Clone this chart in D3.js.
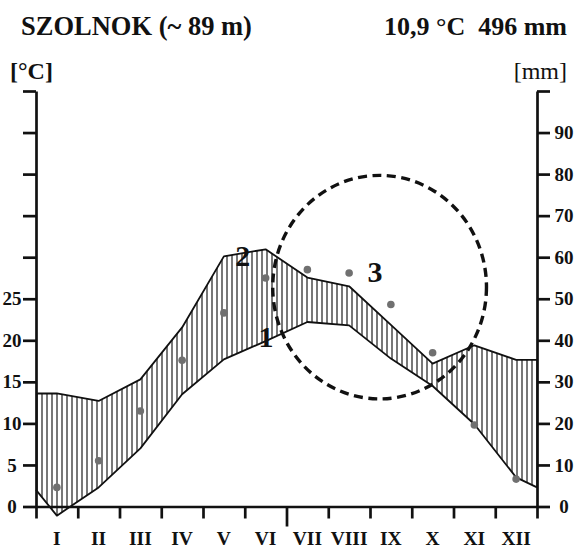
<!DOCTYPE html>
<html>
<head>
<meta charset="utf-8">
<script src="https://cdn.jsdelivr.net/npm/d3@7"></script>
<style>
  html, body { margin: 0; padding: 0; background: #ffffff; }
  svg { display: block; }
  text { font-family: "Liberation Serif", "Times New Roman", serif; fill: #111; }
</style>
</head>
<body>
<svg id="chart" width="577" height="549"></svg>
<script>
// ---------- data ----------
const months = ["I","II","III","IV","V","VI","VII","VIII","IX","X","XI","XII"];
// line 1: mean monthly temperature (°C)
const temperature = [-1.1, 2.3, 7.0, 13.5, 17.7, 19.9, 22.2, 21.8, 17.8, 14.5, 9.9, 3.5];
// temperature line value where it meets the left / right frame
const temperatureAtEdges = [2.0, 2.3];
// line 2: monthly precipitation (mm)
const precipitation = [27.2, 25.4, 30.6, 43.1, 60.2, 61.9, 55.1, 53.0, 43.7, 34.4, 38.8, 35.3];
// points 3 (read on the °C scale)
const points3 = [2.3, 5.5, 11.5, 17.6, 23.3, 27.5, 28.5, 28.1, 24.3, 18.5, 9.8, 3.3];
// axis ticks
const tempTicks = [0,5,10,15,20,25,30,35,40,45,50];
const tempLabelMax = 25;
const precTicks = [0,10,20,30,40,50,60,70,80,90,100];
const precLabelMax = 90;
// annotations (month units, °C units)
const annotations = [
  {text: "2", m: 4.95, t: 29.0},
  {text: "1", m: 5.51, t: 19.2},
  {text: "3", m: 8.12, t: 27.0}
];
const circle3 = {m: 8.23, t: 26.4, rm: 2.56, rt: 13.45};
const titleLeft = "SZOLNOK (~ 89 m)";
const titleRight = "10,9 °C  496 mm";

// ---------- layout ----------
const svg = d3.select("#chart");
const X0 = 36, X1 = 537, Y0 = 506.5, YTOP = 91;
const x = d3.scaleLinear().domain([0, 12]).range([X0, X1]);
const yT = d3.scaleLinear().domain([0, 50]).range([Y0, YTOP]);
const yP = d3.scaleLinear().domain([0, 100]).range([Y0, YTOP]);

// hatch pattern
const defs = svg.append("defs");
const pat = defs.append("pattern")
  .attr("id", "hatch").attr("patternUnits", "userSpaceOnUse")
  .attr("x", 1).attr("y", 0).attr("width", 5.0).attr("height", 10);
pat.append("line").attr("x1", 1).attr("x2", 1).attr("y1", 0).attr("y2", 10)
  .attr("stroke", "#262626").attr("stroke-width", 1.25);

// build combined series with frame-edge values
const series = [];
series.push({m: 0, t: temperatureAtEdges[0], p: precipitation[0]});
months.forEach((mo, i) => series.push({m: i + 0.5, t: temperature[i], p: precipitation[i]}));
series.push({m: 12, t: temperatureAtEdges[1], p: precipitation[11]});

// hatched band between the two lines
svg.append("path").datum(series)
  .attr("d", d3.area().x(d => x(d.m)).y0(d => yT(d.t)).y1(d => yP(d.p)))
  .attr("fill", "url(#hatch)").attr("stroke", "none");

const lineT = d3.line().x(d => x(d.m)).y(d => yT(d.t));
const lineP = d3.line().x(d => x(d.m)).y(d => yP(d.p));
svg.append("path").datum(series).attr("d", lineT)
  .attr("fill", "none").attr("stroke", "#111").attr("stroke-width", 1.8).attr("stroke-linejoin", "round");
svg.append("path").datum(series).attr("d", lineP)
  .attr("fill", "none").attr("stroke", "#111").attr("stroke-width", 1.8).attr("stroke-linejoin", "round");

// points 3
svg.append("g").selectAll("circle").data(points3).join("circle")
  .attr("cx", (d, i) => x(i + 0.5)).attr("cy", d => yT(d))
  .attr("r", 3.8).attr("fill", "#707070");

// dashed circle
svg.append("ellipse")
  .attr("cx", x(circle3.m)).attr("cy", yT(circle3.t))
  .attr("rx", x(circle3.m + circle3.rm) - x(circle3.m))
  .attr("ry", yT(0) - yT(circle3.rt))
  .attr("fill", "none").attr("stroke", "#111").attr("stroke-width", 3.4)
  .attr("stroke-dasharray", "9,5.5");

// ---------- axes ----------
function styleAxis(g) {
  g.selectAll("path.domain").attr("stroke", "#111").attr("stroke-width", 2.7);
  g.selectAll(".tick line").attr("stroke", "#111").attr("stroke-width", 2.7);
  g.selectAll(".tick text").attr("font-family", "Liberation Serif, serif")
    .attr("font-weight", "bold").attr("font-size", 19).attr("fill", "#111");
}

// x axis (month boundaries)
const gx = svg.append("g").attr("transform", `translate(0,${Y0})`)
  .call(d3.axisBottom(x).tickValues(d3.range(0, 13)).tickSize(12).tickSizeOuter(0).tickFormat(""));
styleAxis(gx);
gx.selectAll(".tick line").filter(d => d === 6).attr("y2", 20);

// left temperature axis
const gl = svg.append("g").attr("transform", `translate(${X0},0)`)
  .call(d3.axisLeft(yT).tickValues(tempTicks).tickSize(13).tickSizeOuter(0)
    .tickFormat(d => d <= tempLabelMax ? d : ""));
styleAxis(gl);
gl.selectAll(".tick text").attr("text-anchor", "middle").attr("x", 12 - X0);

// right precipitation axis
const gr = svg.append("g").attr("transform", `translate(${X1},0)`)
  .call(d3.axisRight(yP).tickValues(precTicks).tickSize(13).tickSizeOuter(0)
    .tickFormat(d => d <= precLabelMax ? d : ""));
styleAxis(gr);
gr.selectAll(".tick text").attr("text-anchor", "middle").attr("x", 564 - X1);

// month labels
svg.append("g").selectAll("text").data(months).join("text")
  .attr("x", (d, i) => x(i + 0.5)).attr("y", 545)
  .attr("text-anchor", "middle").attr("font-weight", "bold").attr("font-size", 19.5)
  .text(d => d);

// annotations 1,2,3
svg.append("g").selectAll("text").data(annotations).join("text")
  .attr("x", d => x(d.m)).attr("y", d => yT(d.t))
  .attr("text-anchor", "middle").attr("font-weight", "bold").attr("font-size", 30)
  .text(d => d.text);

// titles
svg.append("text").attr("x", 21).attr("y", 35)
  .attr("font-weight", "bold").attr("font-size", 26.5).text(titleLeft);
svg.append("text").attr("x", 567).attr("y", 35).attr("text-anchor", "end")
  .style("white-space", "pre")
  .attr("font-weight", "bold").attr("font-size", 26).text(titleRight);
svg.append("text").attr("x", 10).attr("y", 79)
  .attr("font-weight", "bold").attr("font-size", 24).text("[°C]");
svg.append("text").attr("x", 567).attr("y", 79).attr("text-anchor", "end")
  .attr("font-size", 24).text("[mm]");
</script>
</body>
</html>
